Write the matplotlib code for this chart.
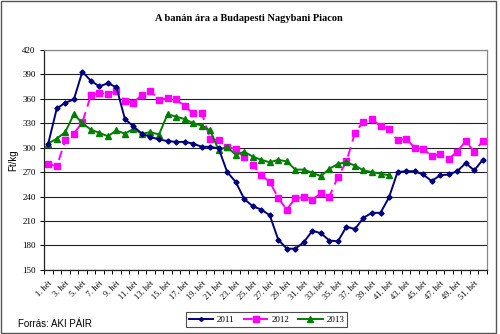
import matplotlib
matplotlib.use("Agg")
import matplotlib.pyplot as plt
from matplotlib.patches import Rectangle

weeks = [f"{i}. hét" for i in range(1, 53)]

price_2011 = [305, 348, 355, 359, 393, 382, 375, 379, 374, 335, 326, 317,
              313, 310, 308, 307, 307, 305, 301, 301, 299, 270, 258, 237,
              228, 224, 217, 187, 176, 176, 184, 198, 195, 186, 185, 203,
              200, 214, 220, 220, 239, 270, 271, 271, 267, 259, 266, 267,
              271, 281, 272, 285]

price_2012 = [280, 277, 309, 317, 331, 364, 367, 366, 369, 357, 355, 365,
              370, 358, 361, 359, 351, 342, 343, 311, 309, 301, 298, 288,
              279, 266, 258, 238, 224, 238, 239, 236, 244, 240, 264, 283,
              318, 332, 335, 326, 323, 309, 311, 300, 298, 290, 292, 286,
              295, 308, 295, 308]

price_2013 = [305, 311, 319, 341, 330, 322, 318, 314, 321, 317, 323, 317,
              319, 316, 341, 338, 335, 330, 327, 321, 297, 301, 291, 295,
              289, 285, 282, 285, 283, 273, 273, 269, 265, 274, 280, 282,
              278, 272, 270, 268, 266]

series_labels = ["2011", "2012", "2013"]
y_ticks = [150, 180, 210, 240, 270, 300, 330, 360, 390, 420]

serif = ["Liberation Serif", "DejaVu Serif"]
sans = ["Liberation Sans", "DejaVu Sans"]

fig = plt.figure(figsize=(5.0, 3.34), dpi=100)
fig.patches.append(Rectangle((0.002, 0.003), 0.99, 0.994, transform=fig.transFigure,
                             fill=False, edgecolor="#555555", linewidth=1.0))
ax = fig.add_axes([0.088, 0.192, 0.886, 0.659])

x11 = list(range(len(price_2011)))
x12 = list(range(len(price_2012)))
x13 = list(range(len(price_2013)))

for y in y_ticks:
    ax.axhline(y, color="#222222", linewidth=0.8, zorder=1)

ax.plot(x11, price_2011, color="#000080", linewidth=1.4, marker="D",
        markersize=2.6, label=series_labels[0], zorder=3)
ax.plot(x12, price_2012, color="#FF00FF", linewidth=1.4, linestyle=(0, (5, 3)),
        marker="s", markersize=4.8, label=series_labels[1], zorder=2)
ax.plot(x13, price_2013, color="#008000", linewidth=1.4, marker="^",
        markersize=4.8, label=series_labels[2], zorder=2)

ax.set_xlim(-0.5, 51.5)
ax.set_ylim(150, 420)
ax.set_yticks(y_ticks)
ax.set_yticklabels([str(v) for v in y_ticks], fontfamily=serif, fontsize=6.5)

ax.set_xticks([i + 0.5 for i in range(-1, 52)], minor=True)
ax.set_xticks(list(range(0, 52, 2)))
ax.set_xticklabels(weeks[::2], rotation=45, ha="right", rotation_mode="anchor",
                   fontfamily=serif, fontsize=6)
ax.tick_params(axis="x", which="major", length=0, pad=7)
ax.tick_params(axis="x", which="minor", length=3, width=0.7, direction="out")
ax.tick_params(axis="y", length=3, width=0.7, pad=3)

for side in ["top", "right"]:
    ax.spines[side].set_color("#888888")
    ax.spines[side].set_linewidth(0.9)
for side in ["left", "bottom"]:
    ax.spines[side].set_color("#222222")
    ax.spines[side].set_linewidth(0.9)

ax.set_ylabel("Ft/kg", fontfamily=sans, fontsize=7, labelpad=3)

fig.text(0.497, 0.944, "A banán ára a Budapesti Nagybani Piacon", ha="center",
         va="center", fontfamily=serif, fontweight="bold", fontsize=7.5)

leg = fig.legend(loc="center", bbox_to_anchor=(0.533, 0.043), ncol=3, frameon=True,
                 fancybox=False, edgecolor="#222222", prop={"family": serif, "size": 6.5},
                 handlelength=2.7, columnspacing=1.0, handletextpad=0.4,
                 borderpad=0.35, markerscale=0.8)
leg.get_frame().set_linewidth(0.8)

fig.text(0.036, 0.03, "Forrás: AKI PÁIR", fontfamily=sans, fontsize=7,
         ha="left", va="center")

fig.savefig("out.png", dpi=100)
